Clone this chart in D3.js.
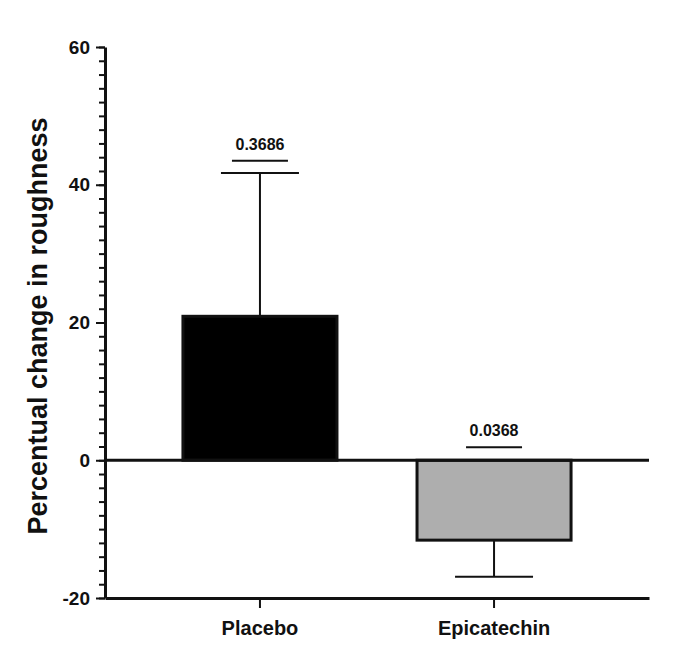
<!DOCTYPE html>
<html>
<head>
<meta charset="utf-8">
<style>
    body { margin: 0; background: white; }
    text { font-family: Arial, "Liberation Sans", sans-serif; font-weight: bold; fill: #111; }
</style>
<script src="https://cdn.jsdelivr.net/npm/d3@7"></script>
</head>
<body>
<div id="chart"></div>
<script>
    var categories = ['Placebo', 'Epicatechin'];
    var means = [20.9, -11.6];
    var errors = [20.8, 5.3];
    var fills = ['#000000', '#aeaeae'];
    var pValues = ['0.3686', '0.0368'];
    var pLevels = [43.5, 1.9];
    var majorTicks = [-20, 0, 20, 40, 60];

    var width = 689, height = 651;

    var svg = d3.select('#chart')
            .append('svg')
            .attr('width', width)
            .attr('height', height);

    var x = d3.scaleBand()
            .domain(categories)
            .range([105, 649])
            .paddingInner(0.342)
            .paddingOuter(0.333);

    var y = d3.scaleLinear()
            .domain([-20, 60])
            .range([598, 47]);

    // minor ticks every 2
    svg.append('g')
            .attr('transform', 'translate(105,0)')
            .call(d3.axisLeft(y).tickValues(d3.range(-20, 61, 2)).tickSize(6).tickFormat(''))
            .call(function(g) { g.select('.domain').remove(); })
            .selectAll('line').attr('stroke', '#111').attr('stroke-width', 2);

    var yAxis = svg.append('g')
            .attr('transform', 'translate(105,0)')
            .call(d3.axisLeft(y).tickValues(majorTicks).tickSize(9).tickSizeOuter(0).tickPadding(6)
                .tickFormat(function(d) { return String(d); }));
    yAxis.select('.domain').attr('stroke', '#111').attr('stroke-width', 3);
    yAxis.selectAll('line').attr('stroke', '#111').attr('stroke-width', 2);
    yAxis.selectAll('text')
            .style('font-size', '19px')
            .style('font-family', 'Arial, "Liberation Sans", sans-serif')
            .style('font-weight', 'bold')
            .attr('fill', '#111');

    var xAxis = svg.append('g')
            .attr('transform', 'translate(0,' + y(-20) + ')')
            .call(d3.axisBottom(x).tickSize(10).tickSizeOuter(0).tickPadding(10));
    xAxis.select('.domain').attr('stroke', '#111').attr('stroke-width', 3);
    xAxis.selectAll('line').attr('stroke', '#111').attr('stroke-width', 2);
    xAxis.selectAll('text')
            .style('font-size', '20px')
            .style('font-family', 'Arial, "Liberation Sans", sans-serif')
            .style('font-weight', 'bold')
            .attr('fill', '#111')
            .attr('dy', '0.85em');

    // error bars
    var err = svg.append('g');
    categories.forEach(function(c, i) {
        var cx = x(c) + x.bandwidth() / 2;
        var end = means[i] >= 0 ? means[i] + errors[i] : means[i] - errors[i];
        err.append('line')
                .attr('x1', cx).attr('x2', cx)
                .attr('y1', y(means[i])).attr('y2', y(end))
                .attr('stroke', '#111').attr('stroke-width', 2);
        err.append('line')
                .attr('x1', cx - 39).attr('x2', cx + 39)
                .attr('y1', y(end)).attr('y2', y(end))
                .attr('stroke', '#111').attr('stroke-width', 2);
    });

    svg.append('g').selectAll('rect')
            .data(categories)
        .enter().append('rect')
            .attr('x', function(d) { return x(d); })
            .attr('width', x.bandwidth())
            .attr('y', function(d, i) { return y(Math.max(0, means[i])); })
            .attr('height', function(d, i) { return Math.abs(y(means[i]) - y(0)); })
            .attr('fill', function(d, i) { return fills[i]; })
            .attr('stroke', '#111')
            .attr('stroke-width', 3);

    // zero line
    svg.append('line')
            .attr('x1', 105).attr('x2', 649)
            .attr('y1', y(0)).attr('y2', y(0))
            .attr('stroke', '#111').attr('stroke-width', 3);

    // p-value annotations
    var ann = svg.append('g');
    categories.forEach(function(c, i) {
        var cx = x(c) + x.bandwidth() / 2;
        ann.append('line')
                .attr('x1', cx - 28).attr('x2', cx + 28)
                .attr('y1', y(pLevels[i])).attr('y2', y(pLevels[i]))
                .attr('stroke', '#111').attr('stroke-width', 2);
        ann.append('text')
                .attr('x', cx)
                .attr('y', y(pLevels[i]) - 11)
                .attr('text-anchor', 'middle')
                .style('font-size', '16px')
                .text(pValues[i]);
    });

    svg.append('text')
            .attr('transform', 'translate(47,' + 326 + ') rotate(-90)')
            .attr('text-anchor', 'middle')
            .style('font-size', '27px')
            .text('Percentual change in roughness');
</script>
</body>
</html>
